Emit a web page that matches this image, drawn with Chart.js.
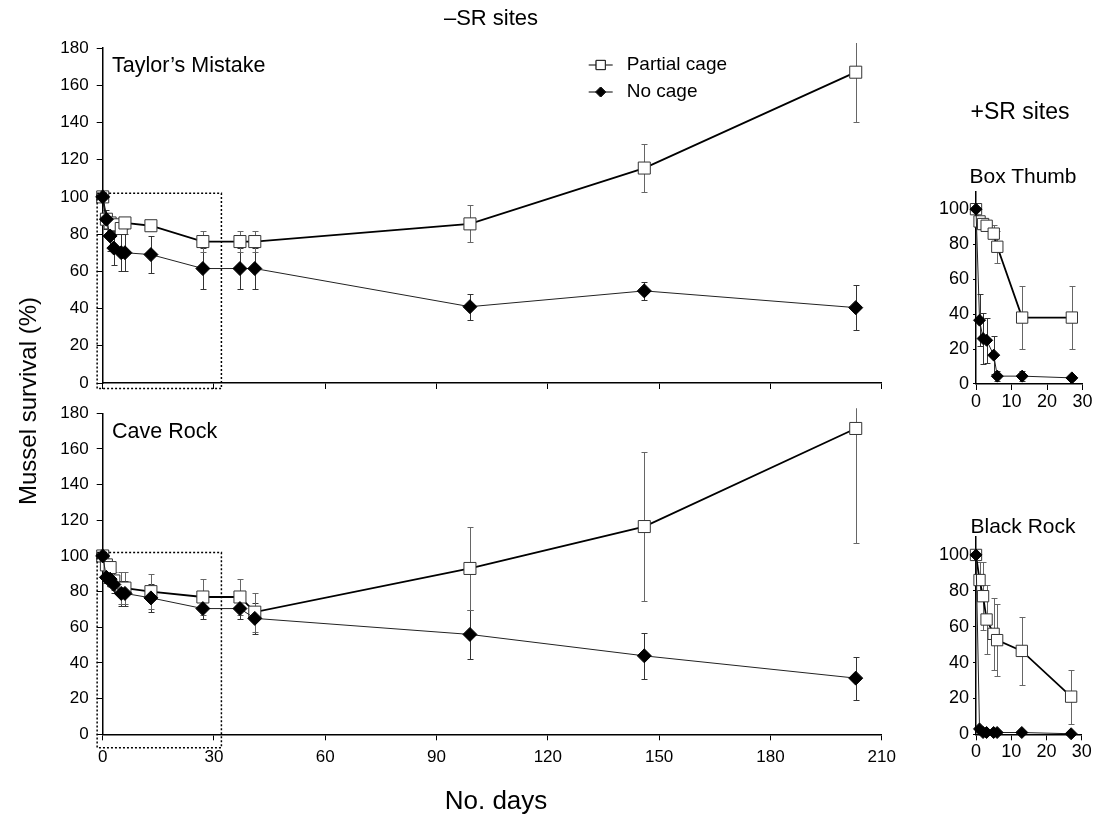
<!DOCTYPE html>
<html>
<head>
<meta charset="utf-8">
<script src="https://cdn.jsdelivr.net/npm/chart.js@4.4.1/dist/chart.umd.min.js"></script>
<style>
  body { margin: 0; background: #fff; width: 1094px; height: 814px; position: relative; overflow: hidden;
         font-family: "Liberation Sans", Arial, sans-serif; color: #000; }
  canvas { position: absolute; left: 0; top: 0; }
  .lbl { position: absolute; white-space: nowrap; transform: translate(-50%, -50%); }
</style>
</head>
<body>
<canvas id="taylor" width="1094" height="814"></canvas>
<canvas id="cave" width="1094" height="814"></canvas>
<canvas id="box" width="1094" height="814"></canvas>
<canvas id="black" width="1094" height="814"></canvas>

<div class="lbl" style="left:491px;top:18px;font-size:22px">–SR sites</div>
<div class="lbl" style="left:1020px;top:111px;font-size:23px">+SR sites</div>
<div class="lbl" style="left:28px;top:401px;font-size:24px;transform:translate(-50%,-50%) rotate(-90deg)">Mussel survival (%)</div>
<div class="lbl" style="left:496px;top:800px;font-size:26px">No. days</div>
<div class="lbl" style="left:112px;top:65px;font-size:21.5px;transform:translate(0,-50%)">Taylor’s Mistake</div>
<div class="lbl" style="left:112px;top:431px;font-size:21.5px;transform:translate(0,-50%)">Cave Rock</div>
<div class="lbl" style="left:1023px;top:176px;font-size:21px">Box Thumb</div>
<div class="lbl" style="left:1023px;top:526px;font-size:21px">Black Rock</div>

<script>
// -SR sites: sampling days (long run)
const daysNeg = [0, 1, 2, 3, 5, 6, 13, 27, 37, 41, 99, 146, 203];
// +SR sites: sampling days (short run)
const daysPos = [0, 1, 2, 3, 5, 6, 13, 27];

// tick values
const bigXTicks   = [0, 30, 60, 90, 120, 150, 180, 210];
const bigYTicks   = [0, 20, 40, 60, 80, 100, 120, 140, 160, 180];
const smallXTicks = [0, 10, 20, 30];
const smallYTicks = [0, 20, 40, 60, 80, 100];

// Taylor's Mistake
const taylorPartial    = [100, 88, 86, 85, 83, 86, 84.5, 76, 76, 76, 85.5, 115.5, 167];
const taylorPartialErr = [1, 3, 3, 3, 3, 3, 2.5, 5.5, 5.5, 5.5, 10, 13, 27];
const taylorNoCage     = [100, 88, 79, 72.5, 70, 70, 69, 61.5, 61.5, 61.5, 41, 49.5, 40.5];
const taylorNoCageErr  = [1, 5, 8, 9, 10, 10, 10, 11, 11, 11, 7, 5, 12];

// Cave Rock
const cavePartial    = [100, 95, 93.5, 86, 82, 82, 80, 77, 77, 68.5, 93, 116.5, 171.5];
const cavePartialErr = [1, 3, 3, 5, 9, 9, 10, 10, 10, 11, 23.5, 42, 64];
const caveNoCage     = [100, 88, 87, 84, 79, 79, 76.5, 70.5, 70.5, 65, 56, 44, 31.5];
const caveNoCageErr  = [1, 3, 4, 5, 7, 7, 8, 6, 6, 8.5, 13.5, 13, 12];

// Box Thumb
const boxPartial    = [100, 93, 91.5, 90.5, 86, 78.5, 38, 38];
const boxPartialErr = [1, 3, 3, 3, 5, 9, 18, 18];
const boxNoCage     = [100, 36.5, 26, 25, 16.5, 4.5, 4.5, 3.5];
const boxNoCageErr  = [1, 15, 14.5, 13, 11, 3, 3, 1];

// Black Rock
const blackPartial    = [100, 86, 77, 64, 56, 52.5, 46.5, 21];
const blackPartialErr = [1, 10, 19, 19, 20, 20, 19, 15];
const blackNoCage     = [100, 3, 1, 1, 1, 1, 1, 0.3];
const blackNoCageErr  = [0, 0, 0, 0, 0, 0, 0, 0];

// dotted boxes marking the first 30 days (days, %)
const zoomBoxTaylor = [-1.5, 32, -3, 102];
const zoomBoxCave   = [-1.5, 32, -7.5, 102];

const FONT = '"Liberation Sans", Arial, sans-serif';
const W = 1094, H = 814;

const pts = (days, vals) => days.map((d, i) => ({ x: d, y: vals[i] }));
const asTicks = (vals) => vals.map((v) => ({ value: v }));

// vertical error bars with small caps, drawn under the markers
const errorBars = {
  id: "errorBars",
  beforeDatasetsDraw(chart) {
    const { ctx, chartArea: a, scales: { x, y } } = chart;
    ctx.save();
    ctx.beginPath();
    ctx.rect(a.left - 20, a.top - 5, a.width + 40, a.height + 25);
    ctx.clip();
    chart.data.datasets.forEach((ds) => {
      if (!ds.errors) return;
      ctx.strokeStyle = ds.errorColor;
      ctx.lineWidth = 1;
      ds.data.forEach((p, i) => {
        const e = ds.errors[i];
        if (!e) return;
        const px = Math.round(x.getPixelForValue(p.x)) + 0.5;
        const y1 = Math.round(y.getPixelForValue(p.y + e)) + 0.5;
        const y2 = Math.round(y.getPixelForValue(p.y - e)) + 0.5;
        ctx.beginPath();
        ctx.moveTo(px, y1); ctx.lineTo(px, y2);
        ctx.moveTo(px - 3, y1); ctx.lineTo(px + 3, y1);
        ctx.moveTo(px - 3, y2); ctx.lineTo(px + 3, y2);
        ctx.stroke();
      });
    });
    ctx.restore();
  },
};

// dotted rectangle around the early-days region
const zoomBox = {
  id: "zoomBox",
  afterDraw(chart, args, opts) {
    if (!opts.box) return;
    const { ctx, scales: { x, y } } = chart;
    const [x0, x1, y0, y1] = opts.box;
    const l = x.getPixelForValue(x0), r = x.getPixelForValue(x1);
    const t = y.getPixelForValue(y1), b = y.getPixelForValue(y0);
    ctx.save();
    ctx.strokeStyle = "#000";
    ctx.lineWidth = 1.5;
    ctx.setLineDash([2, 2]);
    ctx.strokeRect(l, t, r - l, b - t);
    ctx.restore();
  },
};

// legend: short line through a marker, then the label
const lineLegend = {
  id: "lineLegend",
  afterDraw(chart, args, opts) {
    if (!opts.show) return;
    const { ctx, chartArea: a } = chart;
    const x0 = a.left + 486, rowY = [a.top + 17, a.top + 44];
    ctx.save();
    chart.data.datasets.slice().reverse().forEach((ds, i) => {
      const yy = rowY[i];
      ctx.strokeStyle = "#000";
      ctx.lineWidth = 1;
      ctx.beginPath();
      ctx.moveTo(x0, yy); ctx.lineTo(x0 + 24, yy);
      ctx.stroke();
      Chart.helpers.drawPoint(ctx, {
        pointStyle: ds.pointStyle, radius: ds.pointRadius - 2, borderWidth: 1,
      }, x0 + 12, yy);
      ctx.fillStyle = ds.pointBackgroundColor;
      ctx.strokeStyle = "#222";
      ctx.fill(); ctx.stroke();
      ctx.fillStyle = "#000";
      ctx.font = "19px " + FONT;
      ctx.textBaseline = "middle";
      ctx.fillText(ds.label, x0 + 38, yy);
    });
    ctx.restore();
  },
};

function panel(id, o) {
  const yW = o.small ? 46 : 60;
  const xH = o.small ? 30 : 40;
  const fs = o.small ? 18 : 17;
  return new Chart(document.getElementById(id), {
    type: "line",
    plugins: [errorBars, zoomBox, lineLegend],
    data: {
      datasets: [
        {
          label: "No cage",
          data: pts(o.days, o.noCage),
          errors: o.noCageErr,
          errorColor: "#333",
          borderColor: "#222",
          borderWidth: 1,
          pointStyle: "rectRot",
          pointRadius: o.small ? 6 : 7,
          pointBackgroundColor: "#000",
          pointBorderColor: "#000",
          pointBorderWidth: 1,
          clip: false,
        },
        {
          label: "Partial cage",
          data: pts(o.days, o.partial),
          errors: o.partialErr,
          errorColor: "#666",
          borderColor: "#000",
          borderWidth: 1.8,
          pointStyle: "rect",
          pointRadius: o.small ? 8 : 8.5,
          pointBackgroundColor: "#fff",
          pointBorderColor: "#333",
          pointBorderWidth: 1,
          clip: false,
        },
      ],
    },
    options: {
      responsive: false,
      animation: false,
      events: [],
      layout: {
        padding: {
          left: o.area.left - yW,
          top: o.area.top,
          right: W - o.area.right,
          bottom: H - o.area.bottom - xH,
        },
      },
      plugins: {
        legend: { display: false },
        tooltip: { enabled: false },
        zoomBox: { box: o.box },
        lineLegend: { show: !!o.legend },
      },
      scales: {
        x: {
          type: "linear",
          min: 0,
          max: o.xMax,
          border: { display: true, color: "#000", width: 1.5 },
          grid: { drawOnChartArea: false, drawTicks: true, tickLength: 6, color: "#000" },
          ticks: {
            display: o.xLabels,
            autoSkip: false,
            maxRotation: 0,
            color: "#000",
            padding: o.small ? 1 : 7,
            font: { family: FONT, size: fs },
          },
          afterBuildTicks(s) { s.ticks = asTicks(o.xTicks); },
          afterFit(s) { s.height = xH; s.paddingLeft = 0; s.paddingRight = 0; },
        },
        y: {
          min: 0,
          max: o.yMax,
          border: { display: true, color: "#000", width: 1.5 },
          grid: { drawOnChartArea: false, drawTicks: true, tickLength: o.small ? 3 : 6, color: "#000" },
          ticks: {
            autoSkip: false,
            color: "#000",
            padding: o.small ? 4 : 8,
            font: { family: FONT, size: fs },
          },
          afterBuildTicks(s) { s.ticks = asTicks(o.yTicks); },
          afterFit(s) { s.width = yW; s.paddingTop = 0; s.paddingBottom = 0; },
        },
      },
    },
  });
}

panel("taylor", {
  area: { left: 102.7, right: 881.7, top: 48, bottom: 383 },
  days: daysNeg, partial: taylorPartial, partialErr: taylorPartialErr,
  noCage: taylorNoCage, noCageErr: taylorNoCageErr,
  xMax: 210, xTicks: bigXTicks, xLabels: false, yMax: 180, yTicks: bigYTicks,
  box: zoomBoxTaylor, legend: true,
});
panel("cave", {
  area: { left: 102.7, right: 881.7, top: 413.3, bottom: 734.3 },
  days: daysNeg, partial: cavePartial, partialErr: cavePartialErr,
  noCage: caveNoCage, noCageErr: caveNoCageErr,
  xMax: 210, xTicks: bigXTicks, xLabels: true, yMax: 180, yTicks: bigYTicks,
  box: zoomBoxCave,
});
panel("box", {
  small: true,
  area: { left: 976, right: 1082.5, top: 191.7, bottom: 384 },
  days: daysPos, partial: boxPartial, partialErr: boxPartialErr,
  noCage: boxNoCage, noCageErr: boxNoCageErr,
  xMax: 30, xTicks: smallXTicks, xLabels: true, yMax: 110, yTicks: smallYTicks,
});
panel("black", {
  small: true,
  area: { left: 976, right: 1081.7, top: 537, bottom: 734.3 },
  days: daysPos, partial: blackPartial, partialErr: blackPartialErr,
  noCage: blackNoCage, noCageErr: blackNoCageErr,
  xMax: 30, xTicks: smallXTicks, xLabels: true, yMax: 110, yTicks: smallYTicks,
});
</script>
</body>
</html>
